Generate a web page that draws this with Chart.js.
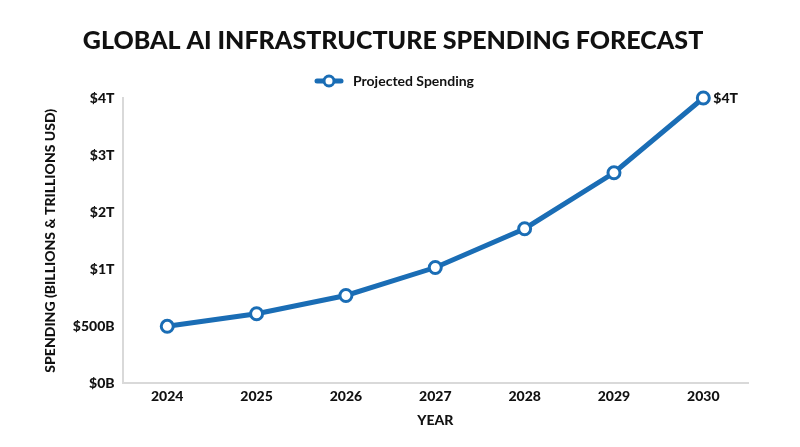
<!DOCTYPE html>
<html><head><meta charset="utf-8">
<script src="https://cdn.jsdelivr.net/npm/chart.js@4.4.0/dist/chart.umd.min.js"></script>
<style>html,body{margin:0;padding:0;background:#fff}#wrap{width:800px;height:447px}</style>
</head><body><div id="wrap"><canvas id="c"></canvas></div>
<script>
const years = ["2024","2025","2026","2027","2028","2029","2030"];
// values in axis units (tick index positions: 0=$0B,1=$500B,2=$1T,3=$2T,4=$3T,5=$4T)
const spending = [1.0, 1.22, 1.54, 2.03, 2.71, 3.69, 5.0];
const tickLabels = ["$0B","$500B","$1T","$2T","$3T","$4T"];
const endLabel = "$4T";
const FONT = "Lato, 'Open Sans', sans-serif";
const blue = "#1a6db5";

// legend marker: line with hollow circle
const marker = document.createElement('canvas');
marker.width = 30; marker.height = 14;
(function(){
  const g = marker.getContext('2d');
  g.strokeStyle = blue; g.lineWidth = 5; g.lineCap = 'round';
  g.beginPath(); g.moveTo(3,7); g.lineTo(27,7); g.stroke();
  g.fillStyle = '#fff'; g.lineWidth = 3;
  g.beginPath(); g.arc(15,7,5,0,Math.PI*2); g.fill(); g.stroke();
})();

const endLabelPlugin = {
  id: 'endLabel',
  afterDatasetsDraw(chart) {
    const meta = chart.getDatasetMeta(0);
    const pt = meta.data[meta.data.length - 1];
    const ctx = chart.ctx;
    ctx.save();
    ctx.font = "900 14px " + FONT;
    ctx.fillStyle = "#111";
    ctx.textAlign = "left";
    ctx.textBaseline = "middle";
    ctx.fillText(endLabel, pt.x + 10, pt.y);
    ctx.restore();
  }
};

new Chart(document.getElementById('c'), {
  type: 'line',
  data: {
    labels: years,
    datasets: [{
      label: 'Projected Spending',
      data: spending,
      borderColor: blue,
      backgroundColor: '#fff',
      borderWidth: 5,
      pointRadius: 6,
      pointBorderWidth: 3,
      pointBackgroundColor: '#fff',
      pointBorderColor: blue,
      pointStyle: 'circle',
      tension: 0,
      clip: false
    }]
  },
  options: {
    responsive: true,
    maintainAspectRatio: false,
    animation: false,
    layout: { padding: { left: 38, right: 52, top: 8, bottom: 18 } },
    plugins: {
      title: {
        display: true,
        text: 'GLOBAL AI INFRASTRUCTURE SPENDING FORECAST',
        color: '#111',
        font: { family: FONT, size: 25, weight: '900' },
        padding: { top: 18, bottom: 6 }
      },
      legend: {
        display: true,
        labels: {
          usePointStyle: true,
          pointStyleWidth: 34,
          generateLabels: (chart) => [{
            text: chart.data.datasets[0].label,
            pointStyle: marker,
            fontColor: '#111',
            lineWidth: 0,
            datasetIndex: 0
          }],
          color: '#111',
          font: { family: FONT, size: 14, weight: 'bold' },
          padding: 12
        }
      },
      tooltip: { enabled: false }
    },
    scales: {
      x: {
        offset: true,
        grid: { display: false, drawTicks: false },
        border: { color: '#d9d9d9', width: 2 },
        ticks: { color: '#111', font: { family: FONT, size: 14, weight: '900' }, padding: 5 },
        title: { display: true, text: 'YEAR', color: '#111', font: { family: FONT, size: 14, weight: '900' }, padding: { top: 2, bottom: 0 } }
      },
      y: {
        min: 0, max: 5,
        grid: { display: false, drawTicks: false },
        border: { color: '#d9d9d9', width: 2 },
        ticks: {
          stepSize: 1,
          color: '#111',
          font: { family: FONT, size: 14, weight: '900' },
          padding: 8,
          callback: (v) => tickLabels[v]
        },
        title: { display: true, text: 'SPENDING (BILLIONS & TRILLIONS USD)', color: '#111', font: { family: FONT, size: 14, weight: '900' }, padding: { bottom: 6 } }
      }
    }
  },
  plugins: [endLabelPlugin]
});
</script></body></html>
